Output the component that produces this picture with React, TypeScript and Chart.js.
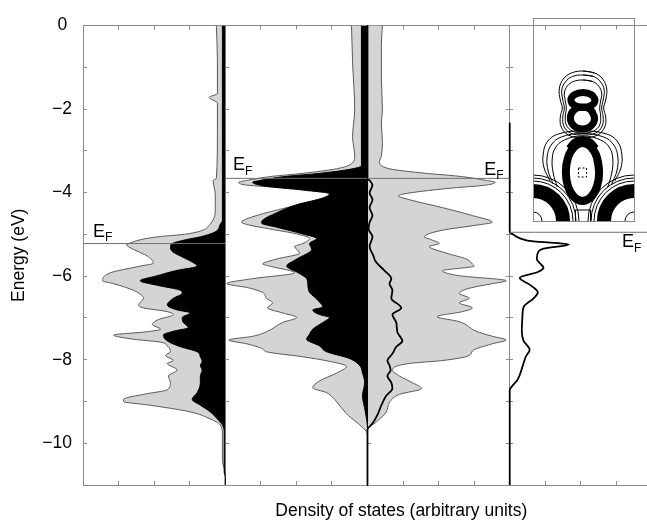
import React, { useEffect, useRef } from 'react';
import { Chart, registerables } from 'chart.js';

Chart.register(...registerables);

const FONT = '"Liberation Sans", Arial, Helvetica, sans-serif';

type Pair = [number, number];

// ---------------- main figure: energy (eV) / DOS (arbitrary units, 10 a.u. per x tick) ----------------
const energyTickLabels = [0, -2, -4, -6, -8, -10];
const energyMin = -11;
const energyMax = 0;
const dosAxisMax = 158.6;
const dosTickStep = 10;
// panel baselines (a.u.): panel 1 grows left from 40, panel 2 grows left from 80,
// panel 3 grows right from 80, panel 4 grows right from 120
const panelBaselines = [40, 80, 80, 120];

const xTitle = 'Density of states (arbitrary units)';
const yTitle = 'Energy (eV)';
const xTitleCentre = 89.5;

// Fermi levels: [from a.u., to a.u., energy]
const fermiSegments: [number, number, number][] = [
  [0, 40, -5.22],
  [40, 120, -3.66],
  [120, 158.6, -4.95],
];
// E_F labels: [a.u. of left edge, energy of baseline]
const fermiLabels: Pair[] = [
  [2.8, -5.06],
  [42.2, -3.47],
  [112.8, -3.57],
  [151.6, -5.31],
];

// panel 1 – total (grey) and partial (black) DOS, [energy, dos]
const p1Total: Pair[] = [
  [0, 2.5], [-0.86, 2.2], [-1.63, 2.2], [-1.72, 4.5], [-1.86, 2.2], [-2.5, 2.2], [-3.66, 2.5], [-3.71, 3.4],
  [-4.06, 2.8], [-4.36, 2.8], [-4.75, 4.2], [-4.99, 10.7], [-5.06, 19.1], [-5.13, 23.9], [-5.22, 27.2],
  [-5.24, 27.8], [-5.36, 25.8], [-5.52, 21.9], [-5.69, 20.2], [-5.76, 23.9], [-5.92, 32.3], [-6.11, 34.5],
  [-6.18, 31.4], [-6.34, 25.8], [-6.53, 23.0], [-6.69, 24.4], [-6.76, 23.0], [-6.85, 16.3], [-6.92, 14.6],
  [-7.04, 18.8], [-7.16, 20.5], [-7.27, 18.2], [-7.34, 23.0], [-7.41, 31.4], [-7.51, 25.8], [-7.58, 18.2],
  [-7.67, 16.3], [-7.81, 15.4], [-7.9, 16.8], [-8.02, 14.6], [-8.09, 16.3], [-8.25, 13.5], [-8.39, 16.0],
  [-8.55, 15.4], [-8.72, 16.3], [-8.83, 23.0], [-8.95, 28.6], [-9.0, 28.6], [-9.09, 21.1], [-9.25, 9.8],
  [-9.42, 4.2], [-9.56, 1.4], [-9.79, 0.8], [-10.42, 0.8], [-10.72, 0], [-11, 0],
];
const p1Partial: Pair[] = [
  [0, 0.8], [-4.66, 0.8], [-4.76, 1.4], [-4.94, 2.8], [-5.06, 7.0], [-5.13, 11.2], [-5.22, 14.9],
  [-5.29, 15.4], [-5.41, 14.9], [-5.52, 12.6], [-5.64, 9.8], [-5.76, 7.9], [-5.87, 14.0], [-5.99, 19.1],
  [-6.11, 23.9], [-6.22, 19.1], [-6.34, 12.6], [-6.41, 12.1], [-6.53, 14.6], [-6.69, 16.3], [-6.81, 13.5],
  [-6.88, 9.8], [-6.99, 12.1], [-7.11, 11.8], [-7.23, 10.4], [-7.32, 14.6], [-7.41, 17.4], [-7.55, 16.3],
  [-7.69, 12.6], [-7.81, 7.9], [-7.93, 7.0], [-8.04, 6.5], [-8.14, 7.0], [-8.25, 6.5], [-8.39, 7.0],
  [-8.55, 7.0], [-8.79, 7.9], [-8.95, 9.3], [-9.09, 7.0], [-9.25, 4.2], [-9.42, 2.2], [-9.56, 0.8],
  [-9.72, 0.3], [-10.7, 0.3], [-10.8, 0], [-11, 0],
];

// panel 2
const p2Total: Pair[] = [
  [0, 4.5], [-0.86, 4.2], [-2.03, 3.6], [-2.66, 4.2], [-3.12, 3.6], [-3.31, 4.5], [-3.43, 8.7],
  [-3.54, 18.2], [-3.61, 26.7], [-3.71, 34.0], [-3.75, 36.2], [-3.82, 34.0], [-3.89, 22.7], [-3.96, 13.5],
  [-4.03, 9.3], [-4.08, 8.9], [-4.17, 13.5], [-4.36, 22.7], [-4.55, 31.2], [-4.71, 35.4], [-4.78, 33.1],
  [-4.87, 27.5], [-4.99, 19.9], [-5.1, 16.3], [-5.22, 18.2], [-5.29, 20.5], [-5.45, 19.1], [-5.59, 25.5],
  [-5.71, 29.5], [-5.76, 27.5], [-5.92, 20.5], [-6.06, 32.3], [-6.18, 39.6], [-6.27, 34.0], [-6.39, 29.5],
  [-6.53, 28.4], [-6.64, 26.7], [-6.76, 28.1], [-6.88, 23.9], [-6.99, 19.9], [-7.11, 23.9], [-7.32, 28.1],
  [-7.44, 32.3], [-7.53, 39.0], [-7.62, 34.0], [-7.74, 29.5], [-7.81, 28.4], [-7.93, 18.2], [-8.04, 10.7],
  [-8.16, 5.9], [-8.32, 8.7], [-8.51, 13.5], [-8.67, 15.4], [-8.79, 11.5], [-8.9, 9.8], [-9.09, 7.9],
  [-9.32, 5.6], [-9.56, 2.2], [-9.72, 0.3], [-9.8, 0], [-11, 0],
];
const p2Partial: Pair[] = [
  [0, 1.7], [-3.36, 1.7], [-3.43, 4.2], [-3.54, 13.5], [-3.61, 22.7], [-3.71, 30.3], [-3.75, 32.3],
  [-3.85, 28.4], [-3.94, 18.2], [-4.03, 10.7], [-4.13, 12.6], [-4.29, 19.9], [-4.48, 25.5], [-4.66, 29.5],
  [-4.73, 29.8], [-4.83, 25.5], [-4.99, 18.2], [-5.1, 14.3], [-5.22, 16.3], [-5.36, 15.7], [-5.59, 19.9],
  [-5.76, 22.7], [-5.92, 19.5], [-6.06, 17.1], [-6.18, 16.8], [-6.39, 16.3], [-6.5, 14.9], [-6.62, 13.5],
  [-6.74, 12.6], [-6.81, 15.4], [-6.92, 13.5], [-6.99, 10.7], [-7.11, 12.6], [-7.27, 15.4], [-7.39, 16.3],
  [-7.51, 17.1], [-7.67, 13.5], [-7.81, 11.5], [-7.97, 5.1], [-8.14, 2.2], [-8.32, 1.4], [-8.55, 0.8],
  [-8.86, 1.4], [-9.25, 0.6], [-9.65, 0], [-11, 0],
];

// panel 3
const p3Total: Pair[] = [
  [0, 4.2], [-0.47, 3.9], [-1.25, 3.9], [-2.03, 4.2], [-2.33, 3.9], [-2.8, 4.2], [-3.12, 3.9], [-3.26, 3.4],
  [-3.43, 6.2], [-3.54, 16.6], [-3.61, 25.8], [-3.71, 33.4], [-3.75, 35.9], [-3.82, 33.4], [-3.89, 23.9],
  [-4.01, 11.8], [-4.08, 8.7], [-4.17, 11.8], [-4.36, 21.1], [-4.55, 29.5], [-4.71, 35.1], [-4.78, 30.6],
  [-4.9, 21.1], [-5.06, 16.0], [-5.13, 18.0], [-5.22, 20.2], [-5.29, 17.4], [-5.45, 22.2], [-5.59, 27.8],
  [-5.71, 29.5], [-5.76, 30.0], [-5.87, 21.1], [-5.99, 25.8], [-6.11, 39.0], [-6.18, 35.1], [-6.29, 28.6],
  [-6.41, 25.8], [-6.53, 28.6], [-6.64, 25.8], [-6.76, 29.5], [-6.85, 26.7], [-6.97, 19.6], [-7.09, 25.8],
  [-7.32, 30.6], [-7.44, 35.1], [-7.53, 39.0], [-7.62, 35.1], [-7.79, 29.5], [-7.9, 28.6], [-8.02, 21.1],
  [-8.09, 11.8], [-8.25, 7.0], [-8.39, 9.0], [-8.55, 12.6], [-8.69, 15.2], [-8.83, 9.0], [-9.02, 6.2],
  [-9.25, 5.3], [-9.49, 2.5], [-9.67, 0], [-11, 0],
];
const p3Partial: Pair[] = [
  [0, 0], [-3.66, 0], [-3.71, 0.6], [-3.82, 1.4], [-4.01, 0.6], [-4.17, 1.4], [-4.36, 0.6], [-4.55, 1.4],
  [-4.71, 0.6], [-4.87, 0.3], [-5.06, 1.4], [-5.29, 0.6], [-5.52, 1.7], [-5.64, 2.2], [-5.87, 4.8],
  [-6.06, 6.7], [-6.18, 6.2], [-6.34, 7.0], [-6.53, 6.7], [-6.76, 9.5], [-6.92, 7.0], [-7.11, 8.1],
  [-7.34, 8.4], [-7.55, 9.8], [-7.69, 8.1], [-7.86, 7.0], [-8.02, 5.6], [-8.14, 6.2], [-8.25, 6.5],
  [-8.39, 5.6], [-8.55, 6.7], [-8.69, 7.0], [-8.86, 5.3], [-9.09, 3.9], [-9.32, 2.8], [-9.53, 1.4],
  [-9.67, 0], [-11, 0],
];

// panel 4
const p4Dos: Pair[] = [
  [-2.33, 0], [-4.94, 0], [-5.01, 1.1], [-5.1, 3.1], [-5.17, 6.7], [-5.24, 16.6], [-5.34, 9.5], [-5.41, 8.1],
  [-5.59, 7.6], [-5.71, 8.7], [-5.8, 9.5], [-5.9, 7.9], [-6.04, 2.8], [-6.22, 5.9], [-6.39, 7.9],
  [-6.53, 6.7], [-6.74, 3.9], [-6.92, 3.6], [-7.32, 3.4], [-7.55, 3.9], [-7.76, 5.6], [-7.93, 4.5],
  [-8.16, 3.6], [-8.48, 2.2], [-8.62, 0.8], [-8.72, 0], [-11, 0],
];

// ---------------- inset (contour plot), coordinates in inset units ----------------
const insetXMax = 100;
const insetYMax = 203;
const insetUpperLobe: Pair[] = [[61.5, 121], [58, 126.3], [49.5, 128.5], [41, 126.3], [37.5, 121], [41, 115.7], [49.5, 113.5], [58, 115.7], [61.5, 121], [58, 126.3]];
const insetLowerLobe: Pair[] = [[61, 103], [57.5, 110.8], [49, 114], [40.5, 110.8], [37, 103], [40.5, 95.2], [49, 92], [57.5, 95.2], [61, 103], [57.5, 110.8]];
const insetEight1: Pair[] = [[49.5, 141], [59, 139.5], [65, 135], [68, 128], [67, 120], [66, 113], [67, 105], [66, 96], [60, 90], [49.5, 88], [39, 90], [33, 96], [32, 105], [33, 113], [32, 120], [31, 128], [34, 135], [40, 139.5], [49.5, 141], [59, 139.5]];
const insetEight2: Pair[] = [[49.5, 146], [60, 144.5], [67, 139], [70.5, 131], [69.5, 121], [68, 113], [69.5, 104], [68.5, 95], [62, 88], [49.5, 86], [37, 88], [30.5, 95], [29.5, 104], [31, 113], [29.5, 121], [28.5, 131], [32, 139], [39, 144.5], [49.5, 146], [60, 144.5]];
const insetEight3: Pair[] = [[49.5, 150], [61, 148], [69, 142], [73, 132], [72, 121], [70, 113], [72, 104], [71, 94], [64, 86], [49.5, 83], [35, 86], [28, 94], [27, 104], [29, 113], [27, 121], [26, 132], [30, 142], [38, 148], [49.5, 150], [61, 148]];
const insetOval: Pair[] = [[65.5, 49], [63.3, 63.5], [57.3, 74.1], [49, 78], [40.8, 74.1], [34.7, 63.5], [32.5, 49], [34.7, 34.5], [40.8, 23.9], [49, 20], [57.3, 23.9], [63.3, 34.5], [65.5, 49], [63.3, 63.5]];
const insetOvalCap: Pair[] = [[35, 73], [41, 80], [49, 82.5], [57, 80], [63, 73]];
const insetOvalOuter1: Pair[] = [[24, 34], [20, 48], [19, 62], [22, 73], [31, 81], [49, 85], [67, 81], [76, 73], [79, 62], [78, 48], [74, 34]];
const insetOvalOuter2: Pair[] = [[20, 37], [15, 50], [14, 64], [18, 76], [28, 84], [49, 87.5], [70, 84], [80, 76], [84, 64], [83, 50], [78, 37]];
const insetOvalOuter3: Pair[] = [[17, 40], [11, 53], [10, 66], [14, 79], [25, 87], [49, 90], [73, 87], [84, 79], [88, 66], [87, 53], [81, 40]];
const insetCentreSquare: Pair[] = [[45, 53], [53, 53], [53, 44], [45, 44], [45, 53]];
const insetBottomBox: Pair[] = [[42, 0], [42, 11], [57, 11], [57, 0]];
const insetCornerCentres: Pair[] = [[0, 0], [100, 0]];
const insetThickRingRadius = 30;
const insetThinRingRadii = [9, 40, 43, 46];

// ---------------- styling ----------------
const GREY_FILL = '#d4d4d4';
const GREY_EDGE = '#5a5a5a';
const AXIS_GREY = '#8a8a8a';

const toLeft = (pairs: Pair[], base: number) => pairs.map(([e, d]) => ({ x: base - d, y: e }));
const toRight = (pairs: Pair[], base: number) => pairs.map(([e, d]) => ({ x: base + d, y: e }));
const toXY = (pairs: Pair[]) => pairs.map(([u, v]) => ({ x: u, y: v }));

function dosDataset(points: { x: number; y: number }[], opts: Record<string, unknown>) {
  return {
    indexAxis: 'y',
    xAxisID: 'x',
    yAxisID: 'y',
    data: points,
    pointRadius: 0,
    pointHoverRadius: 0,
    cubicInterpolationMode: 'monotone',
    borderWidth: 1,
    fill: false,
    ...opts,
  };
}

const textPlugin = {
  id: 'dosText',
  afterDraw(chart: any) {
    const { ctx, chartArea } = chart;
    const xs = chart.scales.x;
    const ys = chart.scales.y;
    ctx.save();
    ctx.fillStyle = '#000';
    ctx.textBaseline = 'alphabetic';
    ctx.textAlign = 'left';
    fermiLabels.forEach(([xa, e]) => {
      const px = xs.getPixelForValue(xa);
      const py = ys.getPixelForValue(e);
      ctx.font = `18px ${FONT}`;
      ctx.fillText('E', px, py);
      const w = ctx.measureText('E').width;
      ctx.font = `12px ${FONT}`;
      ctx.fillText('F', px + w, py + 4.5);
    });
    ctx.font = `17.5px ${FONT}`;
    ctx.textAlign = 'center';
    ctx.fillText(xTitle, xs.getPixelForValue(xTitleCentre), chartArea.bottom + 31);
    ctx.restore();
  },
};

function sepAxis(at: number, tickLength: number, borderColor: string, borderZ: number, showBorder = true) {
  return {
    type: 'linear',
    axis: 'y',
    position: { x: at },
    min: energyMin,
    max: energyMax,
    ticks: { display: false, stepSize: 1 },
    grid: { drawOnChartArea: false, tickLength, color: AXIS_GREY, z: 0 },
    border: { display: showBorder, color: borderColor, z: borderZ },
  };
}

function xAxis(position: string, size: number) {
  return {
    type: 'linear',
    axis: 'x',
    position,
    min: 0,
    max: dosAxisMax,
    ticks: { display: false, stepSize: dosTickStep, includeBounds: false },
    grid: { drawOnChartArea: false, tickLength: -4, color: AXIS_GREY },
    border: { color: AXIS_GREY },
    afterFit: (s: any) => {
      s.height = size;
    },
  };
}

function mainConfig(): any {
  const datasets: any[] = [];
  fermiSegments.forEach(([a, b, e]) => {
    datasets.push({
      xAxisID: 'x',
      yAxisID: 'y',
      data: [{ x: a, y: e }, { x: b, y: e }],
      borderColor: '#707070',
      borderWidth: 1,
      pointRadius: 0,
      fill: false,
    });
  });
  datasets.push(dosDataset(toRight(p3Partial, panelBaselines[2]), { borderColor: '#000', borderWidth: 1.8 }));
  datasets.push(dosDataset(toRight(p4Dos, panelBaselines[3]), { borderColor: '#000', borderWidth: 1.8 }));
  datasets.push(dosDataset(toLeft(p1Partial, panelBaselines[0]), { borderColor: '#000', backgroundColor: '#000', fill: { value: panelBaselines[0] } }));
  datasets.push(dosDataset(toLeft(p2Partial, panelBaselines[1]), { borderColor: '#000', backgroundColor: '#000', fill: { value: panelBaselines[1] } }));
  datasets.push(dosDataset(toLeft(p1Total, panelBaselines[0]), { borderColor: GREY_EDGE, backgroundColor: GREY_FILL, fill: { value: panelBaselines[0] } }));
  datasets.push(dosDataset(toLeft(p2Total, panelBaselines[1]), { borderColor: GREY_EDGE, backgroundColor: GREY_FILL, fill: { value: panelBaselines[1] } }));
  datasets.push(dosDataset(toRight(p3Total, panelBaselines[2]), { borderColor: GREY_EDGE, backgroundColor: GREY_FILL, fill: { value: panelBaselines[2] } }));

  return {
    type: 'line',
    data: { datasets },
    plugins: [textPlugin],
    options: {
      responsive: false,
      animation: false,
      events: [],
      layout: { padding: 0, autoPadding: false },
      plugins: { legend: { display: false }, tooltip: { enabled: false }, title: { display: false } },
      scales: {
        x: xAxis('bottom', 37),
        x2: xAxis('top', 13),
        y: {
          type: 'linear',
          position: 'left',
          min: energyMin,
          max: energyMax,
          ticks: {
            stepSize: 1,
            padding: 15,
            color: '#000',
            font: { family: FONT, size: 17.5 },
            autoSkip: false,
            callback: (v: number) =>
              energyTickLabels.includes(v) ? (v === 0 ? '0 ' : '\u2212' + Math.abs(v)) : '',
          },
          grid: { drawOnChartArea: false, tickLength: -4, color: AXIS_GREY },
          border: { color: AXIS_GREY },
          title: {
            display: true,
            text: yTitle,
            color: '#000',
            font: { family: FONT, size: 17.5 },
            padding: { top: 8.5, bottom: 0 },
          },
          afterFit: (s: any) => {
            s.width = 83;
          },
        },
        sep1: sepAxis(panelBaselines[0], -4, AXIS_GREY, 0),
        sep2: sepAxis(panelBaselines[1], -4, '#000', 1),
        sep3: sepAxis(panelBaselines[3], -4, AXIS_GREY, 0),
        sep3b: sepAxis(panelBaselines[3], 4, AXIS_GREY, 0, false),
      },
    },
  };
}

function contour(pairs: Pair[], width: number, extra: Record<string, unknown> = {}) {
  return {
    data: toXY(pairs),
    borderColor: '#000',
    borderWidth: width,
    pointRadius: 0,
    tension: 0.4,
    fill: false,
    clip: 0,
    ...extra,
  };
}

function insetConfig(): any {
  const datasets: any[] = [
    contour(insetUpperLobe, 7),
    contour(insetLowerLobe, 7),
    contour(insetOval, 8),
    contour(insetOvalCap, 5),
    contour(insetEight1, 1),
    contour(insetEight2, 1),
    contour(insetEight3, 1),
    contour(insetOvalOuter1, 1),
    contour(insetOvalOuter2, 1),
    contour(insetOvalOuter3, 1),
    contour(insetCentreSquare, 1, { tension: 0, borderDash: [2, 2] }),
    contour(insetBottomBox, 1, { tension: 0 }),
    {
      data: toXY(insetCornerCentres),
      showLine: false,
      pointRadius: insetThickRingRadius,
      pointBorderWidth: 14,
      pointBorderColor: '#000',
      pointBackgroundColor: 'rgba(0,0,0,0)',
      clip: 0,
    },
    ...insetThinRingRadii.map((r) => ({
      data: toXY(insetCornerCentres),
      showLine: false,
      pointRadius: r,
      pointBorderWidth: 1,
      pointBorderColor: '#000',
      pointBackgroundColor: 'rgba(0,0,0,0)',
      clip: 0,
    })),
  ];
  const frameAxis = (axis: string, position: string, max: number) => ({
    type: 'linear',
    axis,
    position,
    min: 0,
    max,
    ticks: { display: false },
    grid: { display: false, drawTicks: false },
    border: { color: AXIS_GREY, z: 1 },
  });
  return {
    type: 'line',
    data: { datasets },
    options: {
      responsive: false,
      animation: false,
      events: [],
      layout: { padding: 1, autoPadding: false },
      plugins: { legend: { display: false }, tooltip: { enabled: false } },
      scales: {
        x: frameAxis('x', 'bottom', insetXMax),
        xTop: frameAxis('x', 'top', insetXMax),
        y: frameAxis('y', 'left', insetYMax),
        yRight: frameAxis('y', 'right', insetYMax),
      },
    },
  };
}

export default function App() {
  const mainRef = useRef<HTMLCanvasElement>(null);
  const insetRef = useRef<HTMLCanvasElement>(null);
  useEffect(() => {
    const main = new Chart(mainRef.current as HTMLCanvasElement, mainConfig());
    const inset = new Chart(insetRef.current as HTMLCanvasElement, insetConfig());
    return () => {
      main.destroy();
      inset.destroy();
    };
  }, []);
  return (
    <div style={{ position: 'absolute', left: 0, top: 0, width: 647, height: 522, background: '#fff', overflow: 'hidden' }}>
      <canvas ref={mainRef} width={647} height={522} style={{ position: 'absolute', left: 0, top: 0 }} />
      <canvas ref={insetRef} width={103} height={205} style={{ position: 'absolute', left: 532, top: 17 }} />
    </div>
  );
}
